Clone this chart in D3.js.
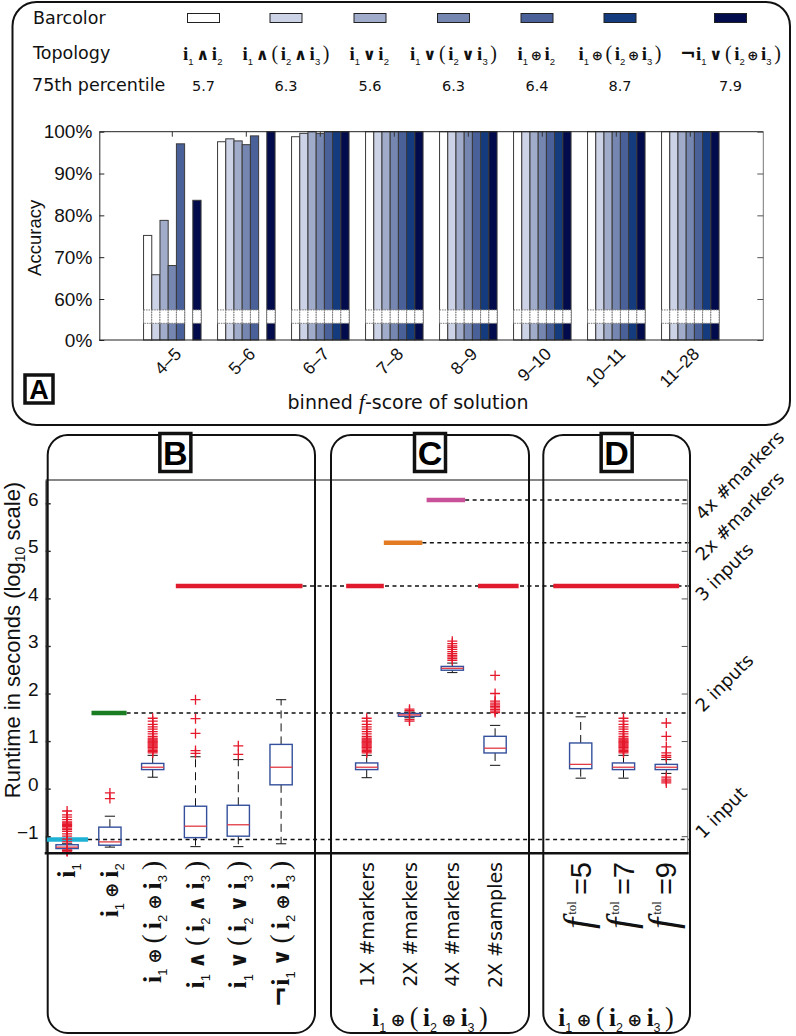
<!DOCTYPE html>
<html>
<head>
<meta charset="utf-8">
<script src="https://cdn.jsdelivr.net/npm/d3@7"></script>
<style>
  body { margin: 0; background: #fff; }
  svg { display: block; }
</style>
</head>
<body>
<div id="chart"></div>
<script>
// ---- panel A data ----
const topologies = ['i1∧i2', 'i1∧(i2∧i3)', 'i1∨i2', 'i1∨(i2∨i3)', 'i1⊕i2', 'i1⊕(i2⊕i3)', '¬i1∨(i2⊕i3)'];
const barColors = ['#ffffff', '#cdd3e6', '#a1abca', '#7586b0', '#4a6099', '#133b7d', '#020c4c'];
const percentile75 = ['5.7', '6.3', '5.6', '6.3', '6.4', '8.7', '7.9'];
const bins = ['4–5', '5–6', '6–7', '7–8', '8–9', '9–10', '10–11', '11–28'];
const accAnd2 = [0.752, 0.976, 0.988, 1, 1, 1, 1, 1];
const accAnd3 = [0.658, 0.983, 0.996, 1, 1, 1, 1, 1];
const accOr2 = [0.788, 0.978, 1, 1, 1, 1, 1, 1];
const accOr3 = [0.68, 0.969, 0.996, 1, 1, 1, 1, 1];
const accXor2 = [0.971, 0.99, 1, 1, 1, 1, 1, 1];
const accXor3 = [null, null, 1, 1, 1, 1, 1, 1];
const accNot = [0.836, 1, 1, 1, 1, 1, 1, 1];
const accTicks = [0, 0.6, 0.7, 0.8, 0.9, 1];
const accBreak = [0.244, 0.44];

// ---- panels B-D data (log10 seconds) ----
const boxLabelsB = ['i1', 'i1⊕i2', 'i1⊕(i2⊕i3)', 'i1∧(i2∧i3)', 'i1∨(i2∨i3)', '¬i1∨(i2⊕i3)'];
const boxLabelsC = ['1X #markers', '2X #markers', '4X #markers', '2X #samples'];
const boxLabelsD = ['5', '7', '9'];
const boxPos = [1, 2, 3, 4, 5, 6, 8, 9, 10, 11, 13, 14, 15];
const boxQ1 = [-1.26, -1.19, 0.40, -1.03, -1.00, 0.08, 0.40, 1.52, 2.49, 0.75, 0.42, 0.40, 0.40];
const boxMed = [-1.23, -1.12, 0.45, -0.79, -0.76, 0.45, 0.45, 1.55, 2.53, 0.85, 0.51, 0.45, 0.45];
const boxQ3 = [-1.18, -0.81, 0.53, -0.37, -0.35, 0.93, 0.54, 1.58, 2.57, 1.10, 0.96, 0.54, 0.51];
const boxLo = [-1.30, -1.23, 0.24, -1.22, -1.22, -1.16, 0.23, 1.49, 2.44, 0.49, 0.22, 0.22, 0.32];
const boxHi = [-1.16, -0.58, 0.70, 0.67, 0.61, 1.87, 0.70, 1.61, 2.64, 1.33, 1.51, 0.70, 0.61];
const boxOut = [
  [-1.33, -1.31, -1.29, -1.12, -1.06, -1.0, -0.95, -0.9, -0.86, -0.83, -0.8, -0.78, -0.76, -0.74, -0.72, -0.7, -0.65, -0.6, -0.55, -0.47],
  [-0.21, -0.09],
  [0.75, 0.78, 0.8, 0.83, 0.86, 0.88, 0.9, 0.92, 0.94, 0.96, 0.98, 1.0, 1.02, 1.04, 1.06, 1.1, 1.15, 1.2, 1.25, 1.3, 1.35, 1.42, 1.48],
  [0.74, 0.8, 1.16, 1.47, 1.87],
  [0.72, 0.9],
  [],
  [0.75, 0.78, 0.8, 0.83, 0.86, 0.88, 0.9, 0.92, 0.94, 0.96, 0.98, 1.0, 1.02, 1.04, 1.06, 1.1, 1.15, 1.2, 1.25, 1.3, 1.35, 1.42, 1.48],
  [1.42, 1.45, 1.64, 1.67],
  [2.7, 2.74, 2.77, 2.8, 2.84, 2.88, 2.93, 2.97, 3.0, 3.05, 3.1],
  [1.6, 1.63, 1.66, 1.7, 1.73, 1.76, 1.8, 1.84, 2.0, 2.38],
  [],
  [0.75, 0.78, 0.8, 0.83, 0.86, 0.88, 0.9, 0.92, 0.94, 0.96, 0.98, 1.0, 1.02, 1.04, 1.06, 1.1, 1.15, 1.2, 1.25, 1.3, 1.35, 1.42, 1.48],
  [0.12, 0.16, 0.2, 0.24, 0.66, 0.7, 0.75, 0.88, 1.1, 1.38]
];
const refValue = [-1.07, 1.59, 4.26, 5.17, 6.07];
const refLabel = ['1 input', '2 inputs', '3 inputs', '2x #markers', '4x #markers'];
const refDashFrom = [1.49, 2.39, 6.5, 9.3, 10.3];
const segX0 = [0.5, 1.57, 3.54, 7.52, 8.4, 9.4, 10.6, 12.36];
const segX1 = [1.49, 2.39, 6.5, 8.4, 9.3, 10.3, 11.55, 15.3];
const segY = [-1.07, 1.59, 4.26, 4.26, 5.17, 6.07, 4.26, 4.26];
const segColor = ['#20b2d4', '#1a7d22', '#e11b2e', '#e11b2e', '#e27b22', '#c9519a', '#e11b2e', '#e11b2e'];
const runTicks = [-1, 0, 1, 2, 3, 4, 5, 6];

const width = 796;
const height = 1036;
const sans = 'DejaVu Sans, Verdana, sans-serif';
const helv = 'Liberation Sans, Arial, sans-serif';
const serif = 'Liberation Serif, DejaVu Serif, serif';

const svg = d3.select('#chart').append('svg')
  .attr('width', width)
  .attr('height', height)
  .style('background', '#fff');

// writes a logic formula like "i1⊕(i2⊕i3)" as tspans, gap = extra space between tokens
function formula(text, str, size, gap) {
  const chars = Array.from(str);
  const shift = size * 0.24;
  let first = true;
  let lowered = false;
  const next = (el) => {
    if (!first) el.attr('dx', gap);
    if (lowered) { el.attr('dy', -shift); lowered = false; }
    first = false;
    return el;
  };
  for (let k = 0; k < chars.length; k++) {
    const c = chars[k];
    if (c === 'i' && /\d/.test(chars[k + 1] || '')) {
      next(text.append('tspan')).attr('font-weight', 'bold').attr('font-size', size).text('i');
      text.append('tspan').attr('font-size', size * 0.5).attr('font-family', helv)
        .attr('dy', shift).text(chars[k + 1]);
      lowered = true;
      k++;
    } else if ('∧∨⊕'.includes(c)) {
      next(text.append('tspan')).attr('font-weight', 'bold')
        .attr('font-size', c === '⊕' ? size * 0.7 : size * 0.85)
        .attr('font-family', 'DejaVu Sans, sans-serif').text(c);
    } else if (c === '¬') {
      next(text.append('tspan')).attr('font-weight', 'bold').attr('font-size', size)
        .attr('font-family', 'DejaVu Sans, sans-serif').text(c);
      first = true;
    } else {
      next(text.append('tspan')).attr('font-size', size * 1.05).text(c);
    }
  }
  if (lowered) text.append('tspan').attr('font-size', size).attr('dy', -shift).text('\u200a');
  return text;
}

function labelBox(cx, y, w, h, letter, size) {
  svg.append('rect')
    .attr('x', cx - w / 2).attr('y', y).attr('width', w).attr('height', h)
    .attr('fill', '#fff').attr('stroke', '#111').attr('stroke-width', 3.5);
  svg.append('text')
    .attr('x', cx).attr('y', y + h / 2).attr('dy', '0.36em')
    .attr('text-anchor', 'middle')
    .attr('font-family', helv).attr('font-weight', 'bold').attr('font-size', size)
    .text(letter);
}

// ================= Panel A =================
svg.append('rect')
  .attr('x', 12.5).attr('y', 2).attr('width', 777.5).attr('height', 423)
  .attr('rx', 24).attr('fill', 'none').attr('stroke', '#111').attr('stroke-width', 2);

const legendX = d3.scaleOrdinal().domain(topologies)
  .range([203.5, 286, 370, 453.5, 537, 620, 730.5]);

const rowLabels = svg.append('g')
  .attr('font-family', sans).attr('font-size', 17.5).attr('fill', '#111');
rowLabels.append('text').attr('x', 33).attr('y', 24).text('Barcolor');
rowLabels.append('text').attr('x', 33).attr('y', 59).text('Topology');
rowLabels.append('text').attr('x', 32).attr('y', 91).text('75th percentile');

topologies.forEach((t, j) => {
  const cx = legendX(t);
  svg.append('rect')
    .attr('x', cx - 16).attr('y', 13.5).attr('width', 32).attr('height', 9)
    .attr('fill', barColors[j]).attr('stroke', '#222').attr('stroke-width', 1);
  const tt = svg.append('text')
    .attr('x', cx).attr('y', 60).attr('text-anchor', 'middle')
    .attr('font-family', serif).attr('fill', '#111');
  formula(tt, t, 19, 2.6);
  svg.append('text')
    .attr('x', cx).attr('y', 91).attr('text-anchor', 'middle')
    .attr('font-family', sans).attr('font-size', 14.5).attr('fill', '#111')
    .text(percentile75[j]);
});

const aLeft = 99.3, aRight = 763.3, aTop = 131.7, aBottom = 340;
const yA = d3.scaleLinear().domain([0, 0.6, 1]).range([aBottom, 299, aTop]);
const xA = d3.scaleBand().domain(bins).range([aLeft, aRight])
  .paddingInner(0.223).paddingOuter(0.598);
const xTopo = d3.scaleBand().domain(topologies).range([0, xA.bandwidth()]);
const accuracy = [accAnd2, accAnd3, accOr2, accOr3, accXor2, accXor3, accNot];

const barRows = [];
bins.forEach((b, i) => {
  topologies.forEach((t, j) => {
    const v = accuracy[j][i];
    if (v != null) barRows.push({ bin: b, topo: t, color: barColors[j], value: v });
  });
});

const barG = svg.append('g');
barG.selectAll('rect.bar')
  .data(barRows)
  .join('rect')
  .attr('class', 'bar')
  .attr('x', (d) => xA(d.bin) + xTopo(d.topo))
  .attr('y', (d) => yA(d.value))
  .attr('width', xTopo.bandwidth())
  .attr('height', (d) => yA(0) - yA(d.value))
  .attr('fill', (d) => d.color)
  .attr('stroke', '#3a3a3a')
  .attr('stroke-width', 1);

// axis break band
barG.selectAll('rect.brk')
  .data(barRows)
  .join('rect')
  .attr('class', 'brk')
  .attr('x', (d) => xA(d.bin) + xTopo(d.topo))
  .attr('y', yA(accBreak[1]))
  .attr('width', xTopo.bandwidth())
  .attr('height', yA(accBreak[0]) - yA(accBreak[1]))
  .attr('fill', '#fff')
  .attr('stroke', '#777')
  .attr('stroke-width', 1)
  .attr('stroke-dasharray', '1.5,1');

// frame
svg.append('line').attr('x1', aLeft).attr('x2', aRight).attr('y1', aTop).attr('y2', aTop)
  .attr('stroke', '#222');
svg.append('line').attr('x1', aRight).attr('x2', aRight).attr('y1', aTop).attr('y2', aBottom)
  .attr('stroke', '#777');

svg.append('g')
  .attr('transform', `translate(${aLeft},0)`)
  .call(d3.axisLeft(yA).tickValues(accTicks).tickFormat(d3.format('.0%'))
    .tickSizeInner(-5).tickSizeOuter(0).tickPadding(7))
  .call((g) => g.selectAll('text').attr('font-family', helv).attr('font-size', 19).attr('fill', '#111'))
  .call((g) => g.selectAll('line, path').attr('stroke', '#222'));

svg.append('g')
  .attr('transform', `translate(${aRight},0)`)
  .call(d3.axisRight(yA).tickValues(accTicks).tickFormat('').tickSizeInner(-6).tickSizeOuter(0))
  .call((g) => g.select('.domain').remove())
  .call((g) => g.selectAll('line').attr('stroke', '#555'));

svg.append('g')
  .attr('transform', `translate(0,${aTop})`)
  .call(d3.axisTop(xA).tickFormat('').tickSizeInner(-5).tickSizeOuter(0))
  .call((g) => g.select('.domain').remove())
  .call((g) => g.selectAll('line').attr('stroke', '#333'));

svg.append('line').attr('x1', aLeft).attr('x2', aRight).attr('y1', aBottom).attr('y2', aBottom)
  .attr('stroke', '#222').attr('stroke-width', 1.2);

svg.append('g')
  .selectAll('text')
  .data(bins)
  .join('text')
  .attr('transform', (d) => `translate(${xA(d) + xA.bandwidth() / 2 + 10},${aBottom + 15}) rotate(-45)`)
  .attr('text-anchor', 'end')
  .attr('font-family', helv).attr('font-size', 17.5).attr('fill', '#111')
  .text((d) => d);

svg.append('text')
  .attr('transform', `translate(41,${(aTop + aBottom) / 2 + 2}) rotate(-90)`)
  .attr('text-anchor', 'middle')
  .attr('font-family', helv).attr('font-size', 18.5).attr('fill', '#111')
  .text('Accuracy');

const xTitle = svg.append('text')
  .attr('x', 408).attr('y', 409).attr('text-anchor', 'middle')
  .attr('font-family', sans).attr('font-size', 19).attr('fill', '#111');
xTitle.append('tspan').text('binned ');
xTitle.append('tspan').attr('font-family', serif).attr('font-style', 'italic').attr('font-size', 22).text('f');
xTitle.append('tspan').text('-score of solution');

labelBox(39, 375, 28, 28, 'A', 27);

// ================= Panels B-D =================
const bLeft = 45.7, bRight = 687.7, bTop = 480, bBottom = 853.3;
const yB = d3.scaleLinear().domain([-1.36, 6.49]).range([bBottom, bTop]);
const xB = d3.scaleLinear().domain([0.5, 15.5]).range([bLeft, bRight]);

// panel frames
const frames = [[47.7, 315, 'B'], [331, 529, 'C'], [543.3, 690, 'D']];
frames.forEach(([x0, x1]) => {
  svg.append('rect')
    .attr('x', x0).attr('y', 435).attr('width', x1 - x0).attr('height', 598)
    .attr('rx', 20).attr('fill', 'none').attr('stroke', '#111').attr('stroke-width', 2);
});

// reference dashed lines
svg.append('g')
  .selectAll('line')
  .data(refValue)
  .join('line')
  .attr('x1', (d, i) => xB(refDashFrom[i]))
  .attr('x2', bRight + 2)
  .attr('y1', (d) => yB(d))
  .attr('y2', (d) => yB(d))
  .attr('stroke', '#111')
  .attr('stroke-width', 1.6)
  .attr('stroke-dasharray', '4,3.5');

// theoretical runtime bars
svg.append('g')
  .selectAll('line')
  .data(segY)
  .join('line')
  .attr('x1', (d, i) => xB(segX0[i]))
  .attr('x2', (d, i) => xB(segX1[i]))
  .attr('y1', (d) => yB(d))
  .attr('y2', (d) => yB(d))
  .attr('stroke', (d, i) => segColor[i])
  .attr('stroke-width', 4.5);

// boxplots
const boxG = svg.append('g');
const halfW = xB(1.26) - xB(1);
const capW = xB(1.12) - xB(1);
boxPos.forEach((p, i) => {
  const cx = xB(p);
  const g = boxG.append('g');
  g.append('line').attr('x1', cx).attr('x2', cx)
    .attr('y1', yB(boxQ3[i])).attr('y2', yB(boxHi[i]))
    .attr('stroke', '#111').attr('stroke-dasharray', '8,5');
  g.append('line').attr('x1', cx).attr('x2', cx)
    .attr('y1', yB(boxQ1[i])).attr('y2', yB(boxLo[i]))
    .attr('stroke', '#111').attr('stroke-dasharray', '8,5');
  [boxHi[i], boxLo[i]].forEach((v) => {
    g.append('line').attr('x1', cx - capW).attr('x2', cx + capW)
      .attr('y1', yB(v)).attr('y2', yB(v)).attr('stroke', '#111');
  });
  g.append('rect')
    .attr('x', cx - halfW).attr('width', 2 * halfW)
    .attr('y', yB(boxQ3[i])).attr('height', yB(boxQ1[i]) - yB(boxQ3[i]))
    .attr('fill', 'none').attr('stroke', '#34509c').attr('stroke-width', 1.4);
  g.append('line').attr('x1', cx - halfW).attr('x2', cx + halfW)
    .attr('y1', yB(boxMed[i])).attr('y2', yB(boxMed[i]))
    .attr('stroke', '#e23a44').attr('stroke-width', 1.3);
  g.selectAll('path')
    .data(boxOut[i])
    .join('path')
    .attr('transform', (d) => `translate(${cx},${yB(d)})`)
    .attr('d', 'M-5,0H5M0,-5V5')
    .attr('stroke', '#e5192c')
    .attr('stroke-width', 1.3)
    .attr('fill', 'none');
});

// plot frame and axes
svg.append('line').attr('x1', bLeft).attr('x2', bRight).attr('y1', bTop).attr('y2', bTop)
  .attr('stroke', '#111').attr('stroke-width', 1.2);
svg.append('line').attr('x1', bRight).attr('x2', bRight).attr('y1', bTop).attr('y2', bBottom)
  .attr('stroke', '#888').attr('stroke-width', 1.2);
svg.append('g')
  .attr('transform', `translate(${bRight},0)`)
  .call(d3.axisRight(yB).tickValues(runTicks).tickFormat('').tickSizeInner(-6).tickSizeOuter(0))
  .call((g) => g.select('.domain').remove())
  .call((g) => g.selectAll('line').attr('stroke', '#555'));
svg.append('g')
  .attr('transform', `translate(${bLeft},0)`)
  .call(d3.axisLeft(yB).tickValues(runTicks).tickSizeInner(-5).tickSizeOuter(0).tickPadding(7))
  .call((g) => g.selectAll('text').attr('font-family', helv).attr('font-size', 19).attr('fill', '#111').attr('dy', '0.1em'))
  .call((g) => g.selectAll('line, path').attr('stroke', '#222').attr('stroke-width', 1.4));
svg.append('line').attr('x1', bLeft - 1).attr('x2', bRight + 1).attr('y1', bBottom).attr('y2', bBottom)
  .attr('stroke', '#111').attr('stroke-width', 2.6);

const yTitle = svg.append('text')
  .attr('transform', `translate(20,640) rotate(-90)`)
  .attr('text-anchor', 'middle')
  .attr('font-family', helv).attr('font-size', 22).attr('fill', '#111');
yTitle.append('tspan').text('Runtime in seconds (log');
yTitle.append('tspan').attr('font-size', 14).attr('dy', 5).text('10');
yTitle.append('tspan').attr('dy', -5).text(' scale)');

// right side labels
svg.append('g')
  .selectAll('text')
  .data(refValue)
  .join('text')
  .attr('transform', (d, i) => `translate(703,${yB(d) + [0, 0, 16, 19, 21][i]}) rotate(-45)`)
  .attr('font-family', sans).attr('font-size', 18).attr('fill', '#111')
  .text((d, i) => refLabel[i]);

// category labels, rotated
const labelTop = 861;
boxLabelsB.forEach((lab, i) => {
  const t = svg.append('text')
    .attr('transform', `translate(${xB(boxPos[i]) + 8},${labelTop}) rotate(-90)`)
    .attr('text-anchor', 'end')
    .attr('font-family', serif).attr('fill', '#111');
  formula(t, lab, 26, 5);
});
boxLabelsC.forEach((lab, i) => {
  svg.append('text')
    .attr('transform', `translate(${xB(boxPos[6 + i]) + 7},${labelTop + 1}) rotate(-90)`)
    .attr('text-anchor', 'end')
    .attr('font-family', sans).attr('font-size', 19).attr('fill', '#111')
    .text(lab);
});
boxLabelsD.forEach((lab, i) => {
  const t = svg.append('text')
    .attr('transform', `translate(${xB(boxPos[10 + i]) + 10},${labelTop + 1}) rotate(-90)`)
    .attr('text-anchor', 'end')
    .attr('fill', '#111');
  t.append('tspan').attr('font-family', serif).attr('font-style', 'italic').attr('font-size', 40).text('f');
  t.append('tspan').attr('font-family', serif).attr('font-size', 13).attr('dx', 3).attr('dy', -15).text('tol');
  t.append('tspan').attr('font-family', helv).attr('font-size', 29).attr('dx', 6).attr('dy', 15).text('=' + lab);
});

// group labels
[430, 616].forEach((cx) => {
  const t = svg.append('text')
    .attr('x', cx).attr('y', 1026).attr('text-anchor', 'middle')
    .attr('font-family', serif).attr('fill', '#111');
  formula(t, 'i1⊕(i2⊕i3)', 25, 4.5);
});

frames.forEach(([x0, x1, letter]) => {
  labelBox((x0 + x1) / 2 - (letter === 'B' ? 6 : 0), 433.5, 31, 38, letter, 34);
});
</script>
</body>
</html>
